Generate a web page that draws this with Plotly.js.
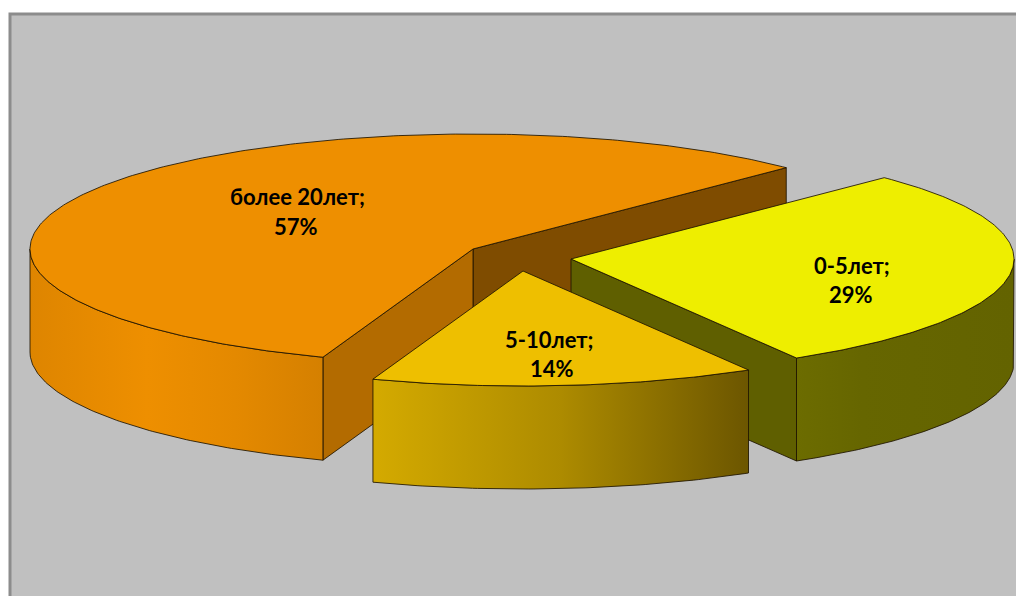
<!DOCTYPE html>
<html>
<head>
<meta charset="utf-8">
<script src="https://cdn.plot.ly/plotly-3.0.1.min.js"></script>
<style>html,body{margin:0;padding:0;background:#fff;overflow:hidden}</style>
</head>
<body>
<div id="chart" style="width:1016px;height:596px"></div>
<script>
// Data
const categories = ['более 20лет', '0-5лет', '5-10лет'];
const shares = [57, 29, 14];

// Pie styling / projection
const topColors = ['#ee8f00', '#eeee00', '#eebf00'];
const startAngle = 45;           // degrees, counter-clockwise from +x on the ellipse
const radiusX = 443, radiusY = 115, depth = 103;
const centers = [[473, 249], [571, 259], [523, 271]]; // exploded slice apexes
const nameAnchors = [[297, 196], [852, 265], [549, 339]];
const shareAnchors = [[296, 226], [851, 294], [552, 368]];

const rad = d => d * Math.PI / 180;
const pt = (c, a, dz) => [c[0] + radiusX * Math.cos(rad(a)), c[1] - radiusY * Math.sin(rad(a)) + (dz || 0)];
function arc(c, a0, a1, dz) {
  const n = Math.max(2, Math.ceil(Math.abs(a1 - a0) * 1.5)), out = [];
  for (let i = 0; i <= n; i++) out.push(pt(c, a0 + (a1 - a0) * i / n, dz));
  return out;
}
function poly(points, color, gradient) {
  const closed = points.concat([points[0]]);
  const t = {
    type: 'scatter', mode: 'lines', x: closed.map(p => p[0]), y: closed.map(p => p[1]),
    fill: 'toself', fillcolor: color, line: {color: 'rgba(30,20,0,0.85)', width: 1},
    hoverinfo: 'skip', showlegend: false
  };
  if (gradient) t.fillgradient = {type: 'horizontal', colorscale: gradient};
  return t;
}

// Slice spans: the largest runs counter-clockwise from startAngle, the others clockwise.
const span = shares.map(v => v * 3.6);
const orange = [startAngle, startAngle + span[0]];
const yellow = [startAngle - span[1], startAngle];
const gold = [yellow[0] - span[2], yellow[0]];

const c0 = centers[0], c1 = centers[1], c2 = centers[2];
const sideFace = (c, a0, a1) => arc(c, a0, a1, 0).concat(arc(c, a1, a0, depth));
const cutFace = (c, a) => [c, pt(c, a, 0), pt(c, a, depth), [c[0], c[1] + depth]];
const topFace = (c, a0, a1) => [c].concat(arc(c, a0, a1, 0));

const traces = [
  poly(cutFace(c0, orange[0]), '#7f4c00'),
  poly(cutFace(c0, orange[1]), '#b36b00'),
  poly(sideFace(c0, 180, orange[1]), '#ee8f00',
    [[0, '#de8500'], [0.4, '#ee8f00'], [0.7, '#e48900'], [1, '#d58000']]),
  poly(topFace(c0, orange[0], orange[1]), topColors[0]),
  poly(cutFace(c1, yellow[0]), '#5f5f00'),
  poly(sideFace(c1, yellow[0], 0), '#666600',
    [[0, '#6c6c00'], [0.3, '#666600'], [1, '#636300']]),
  poly(topFace(c1, yellow[0], yellow[1]), topColors[1]),
  poly(sideFace(c2, gold[0], gold[1]), '#b39000',
    [[0, '#d4aa00'], [0.5, '#ad8b00'], [1, '#6c5600']]),
  poly(topFace(c2, gold[0], gold[1]), topColors[2])
];

const labelFont = {family: 'Lato, "Open Sans", sans-serif', size: 22, color: '#000'};
const label = (text, at) => ({
  xref: 'x', yref: 'y', x: at[0], y: at[1], text: '<b>' + text + '</b>', showarrow: false,
  font: labelFont, align: 'center', xanchor: 'center', yanchor: 'middle'
});
const annotations = categories.map((name, i) => label(name + ';', nameAnchors[i]))
  .concat(shares.map((v, i) => label(v + '%', shareAnchors[i])));

const hidden = {visible: false, fixedrange: true};
Plotly.newPlot('chart', traces, {
  width: 1016, height: 596, margin: {l: 0, r: 0, t: 0, b: 0},
  paper_bgcolor: '#fff', plot_bgcolor: '#fff', showlegend: false,
  xaxis: Object.assign({range: [0, 1016]}, hidden),
  yaxis: Object.assign({range: [596, 0]}, hidden),
  shapes: [{type: 'rect', xref: 'x', yref: 'y', x0: 10, y0: 14, x1: 1040, y1: 640,
    fillcolor: '#c0c0c0', line: {color: '#8c8c8c', width: 3}, layer: 'below'}],
  annotations: annotations
}, {displayModeBar: false, staticPlot: true});
</script>
</body>
</html>
